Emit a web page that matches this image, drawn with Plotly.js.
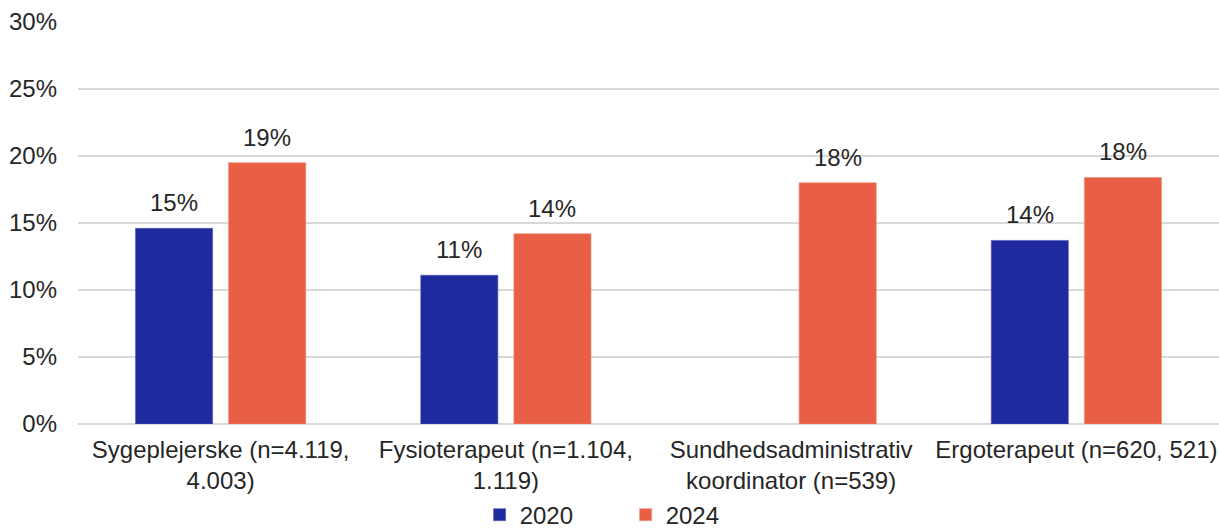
<!DOCTYPE html>
<html><head><meta charset="utf-8">
<script src="https://cdn.plot.ly/plotly-3.0.1.min.js"></script>
<style>html,body{margin:0;padding:0;background:#fff}#chart{width:1219px;height:531px}</style>
</head><body><div id="chart"></div>
<script>
const categories = ["Sygeplejerske (n=4.119,<br>4.003)", "Fysioterapeut (n=1.104,<br>1.119)", "Sundhedsadministrativ<br>koordinator (n=539)", "Ergoterapeut (n=620, 521)"];
const values2020 = [14.6, 11.1, null, 13.7];
const values2024 = [19.5, 14.2, 18.0, 18.4];
const labels2020 = ["15%", "11%", "", "14%"];
const labels2024 = ["19%", "14%", "18%", "18%"];
const seriesNames = ["2020", "2024"];
const colors = ["#1F2A9E", "#E95F45"];
const yTicks = [0, 5, 10, 15, 20, 25, 30];

const FONT = 'Liberation Sans, Arial, sans-serif';
const FS = 24;

const traces = [
  {type:'bar', name:seriesNames[0], x:categories, y:values2020, marker:{color:colors[0], line:{color:'#5058b8', width:0.6}}, hoverinfo:'skip'},
  {type:'bar', name:seriesNames[1], x:categories, y:values2024, marker:{color:colors[1], line:{color:'#f08a76', width:0.6}}, hoverinfo:'skip'}
];

const barShift = 46.5;
const annotations = [];
[[values2020, labels2020, -barShift], [values2024, labels2024, barShift]].forEach(([vals, labs, sh]) => {
  vals.forEach((v, i) => {
    if (v === null || !labs[i]) return;
    annotations.push({x: categories[i], y: v, xref:'x', yref:'y', text: labs[i], showarrow:false,
      xshift: sh, yshift: 10, yanchor:'bottom', font:{size:FS, color:'#262626', family:FONT}});
  });
});

const layout = {
  width:1219, height:531,
  margin:{l:78, r:0, t:22, b:107},
  paper_bgcolor:'#fff', plot_bgcolor:'#fff',
  font:{family:FONT, size:FS, color:'#262626'},
  barmode:'group', bargap:0.347, bargroupgap:0.172,
  showlegend:true,
  legend:{orientation:'h', xref:'paper', x:0.352, xanchor:'left', yref:'container', y:0.03, yanchor:'middle', entrywidth:101, entrywidthmode:'pixels', font:{size:FS, color:'#262626'}, traceorder:'normal'},
  xaxis:{type:'category', range:[-0.5, 3.5], showgrid:false, zeroline:false, showline:false, ticks:'', ticklabelstandoff:9, tickfont:{size:FS, color:'#262626'}, fixedrange:true, automargin:false},
  yaxis:{range:[0, 30], tickvals:yTicks, ticktext:yTicks.map(t => t + '%'), gridcolor:'#d9d9d9', gridwidth:1.5, zeroline:true, zerolinecolor:'#d9d9d9', zerolinewidth:1.5, showline:false, ticks:'', ticklabelstandoff:20, tickfont:{size:FS, color:'#262626'}, fixedrange:true, automargin:false},
  annotations: annotations
};

Plotly.newPlot('chart', traces, layout, {displayModeBar:false, staticPlot:true});
</script></body></html>
